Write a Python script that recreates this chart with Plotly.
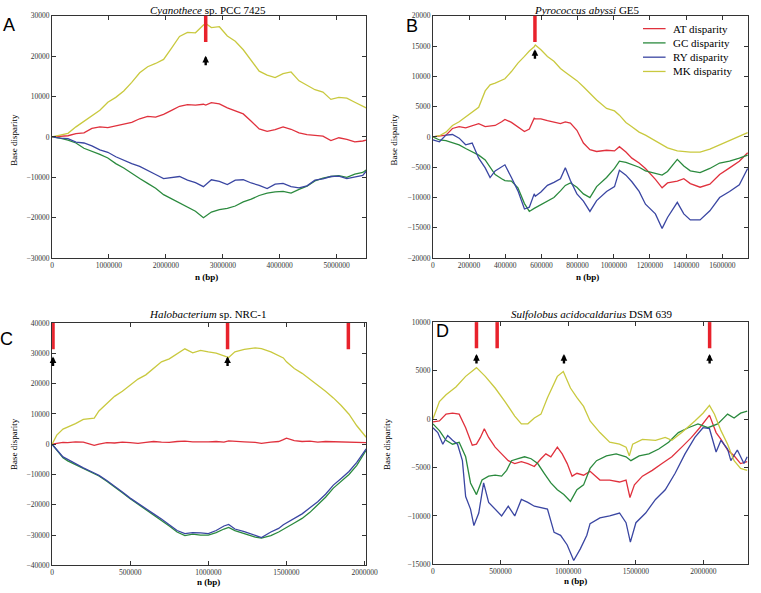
import plotly.graph_objects as go

SERIES = ["AT disparity", "GC disparity", "RY disparity", "MK disparity"]
COLORS = ["#e0313d", "#2b8a3e", "#3a46a2", "#c9c93f"]

# ---------------- Panel A: Cyanothece sp. PCC 7425 ----------------
A_n = [0, 140000, 280000, 420000, 560000, 700000, 840000, 980000, 1120000, 1260000,
       1400000, 1540000, 1680000, 1820000, 1960000, 2100000, 2240000, 2380000, 2520000, 2660000,
       2700000, 2800000, 2940000, 3080000, 3220000, 3360000, 3500000, 3640000, 3780000, 3920000,
       4060000, 4200000, 4340000, 4480000, 4620000, 4760000, 4900000, 5040000, 5180000, 5320000,
       5460000, 5520000]
A_AT = [0, 100, 300, 800, 1000, 2100, 2500, 2300, 2700, 3200,
        3600, 4500, 5100, 4900, 5600, 6600, 7600, 8000, 7900, 8100,
        7900, 8500, 8200, 7200, 6400, 5700, 3900, 2000, 1400, 1800,
        2500, 1900, 1000, 600, 400, 200, -900, -200, -600, -1200,
        -1000, -800]
A_GC = [0, -300, -800, -1500, -2800, -3500, -4300, -5200, -6600, -7700,
        -9100, -10300, -11500, -12700, -14300, -15300, -16400, -17300, -18400, -20000,
        -19600, -18600, -18000, -17700, -17100, -16100, -15400, -14500, -13900, -13600,
        -13500, -13900, -13000, -12200, -10900, -10200, -9800, -9600, -10000, -9200,
        -8800, -8200]
A_RY = [0, -300, -400, -1300, -1500, -2200, -3200, -3800, -4900, -5800,
        -6600, -7300, -8400, -9300, -10300, -10000, -9800, -10700, -11300, -12300,
        -11800, -10600, -11000, -11800, -10700, -10600, -11400, -12000, -12800, -11700,
        -11500, -12300, -12600, -12100, -10700, -10400, -9800, -9700, -10300, -9900,
        -9500, -8500]
A_MK = [0, 500, 900, 2500, 3900, 5400, 6600, 8600, 9800, 11400,
        13500, 15900, 17400, 18200, 19200, 22000, 24900, 25900, 25800, 27700,
        28100, 27100, 27300, 25000, 23700, 21600, 18800, 16300, 15300, 14700,
        15700, 16100, 13900, 12800, 11700, 11100, 9300, 9800, 9600, 8600,
        7600, 7200]
A_bars = [2700000]
A_arrows = [2700000]

# ---------------- Panel B: Pyrococcus abyssi GE5 ----------------
B_n = [0, 36000, 72000, 108000, 145000, 181000, 217000, 253000, 289000, 316000,
       344000, 380000, 398000, 434000, 470000, 506000, 533000, 560000, 566000, 597000,
       633000, 669000, 705000, 732000, 760000, 796000, 832000, 868000, 905000, 960000,
       1004000, 1031000, 1067000, 1100000, 1140000, 1175000, 1230000, 1267000, 1297000, 1351000,
       1387000, 1423000, 1477000, 1531000, 1585000, 1640000, 1694000, 1740000]
B_AT = [0, 200, 300, 1400, 1700, 1500, 1900, 2200, 1700, 1800,
        1900, 2500, 2900, 2400, 1600, 900, 1300, 3100, 3000, 3000,
        2700, 2500, 2200, 2500, 2300, 1100, -1000, -2100, -2400, -2200,
        -2300, -1600, -2500, -3500, -4300, -5200, -7000, -8400, -7600, -7300,
        -6900, -7700, -8300, -7800, -6200, -5100, -4000, -2600]
B_GC = [0, -500, -600, -1000, -1300, -1900, -2400, -3000, -3800, -5000,
        -6200, -6900, -7200, -7300, -8400, -11000, -12300, -11800, -11700, -11100,
        -10600, -10000, -8900, -8000, -7600, -8300, -9400, -10000, -8200, -6700,
        -5200, -4000, -4200, -4600, -5000, -5600, -6000, -6300, -5700, -3700,
        -4800, -5600, -5900, -5200, -4300, -4000, -3500, -3000]
B_RY = [-500, -800, 300, 400, -200, -1300, -1000, -3500, -5100, -6700,
        -5600, -5000, -4600, -6700, -8900, -11900, -11600, -9400, -9800, -9100,
        -8000, -7500, -6900, -5100, -7200, -9400, -10600, -12300, -10500, -9000,
        -8200, -5500, -6300, -7400, -9000, -11100, -12700, -15100, -13300, -10800,
        -12700, -13700, -13700, -12200, -10000, -9000, -7900, -5200]
B_MK = [0, 200, 800, 1900, 2500, 3300, 4000, 4900, 7600, 8600,
        8900, 9300, 9600, 10800, 12200, 13300, 14200, 14900, 15200, 14400,
        13300, 12500, 11300, 10700, 10100, 9300, 8300, 7200, 6100, 4700,
        4300, 3600, 2400, 1700, 800, 300, -600, -1300, -1800, -2300,
        -2400, -2500, -2500, -2000, -1300, -600, 200, 700]
B_bars = [564000]
B_arrows = [564000]

# ---------------- Panel C: Halobacterium sp. NRC-1 ----------------
C_n = [0, 30000, 70000, 100000, 150000, 200000, 270000, 300000, 350000, 400000,
       450000, 500000, 550000, 600000, 650000, 700000, 750000, 800000, 850000, 900000,
       950000, 1000000, 1050000, 1100000, 1130000, 1170000, 1230000, 1300000, 1340000, 1400000,
       1450000, 1480000, 1500000, 1550000, 1600000, 1650000, 1700000, 1750000, 1800000, 1850000,
       1900000, 1950000, 2010000]
C_AT = [0, 300, 600, 500, 800, 700, -400, 0, 500, 400,
        700, 500, 300, 600, 900, 700, 600, 900, 1000, 800,
        700, 800, 900, 700, 1100, 900, 800, 600, 300, 700,
        900, 1500, 2000, 1200, 900, 1000, 700, 900, 800, 900,
        700, 600, 500]
C_GC = [0, -2000, -4500, -5500, -6700, -8000, -9600, -10500, -12200, -14000,
        -16000, -18000, -19800, -21500, -23300, -25000, -27000, -29000, -30200, -29700,
        -30000, -30000, -29200, -28000, -27500, -28500, -29500, -30700, -31000, -30200,
        -29000, -28000, -27500, -26000, -24500, -22500, -20000, -17500, -14500, -12300,
        -10000, -7000, -2000]
C_RY = [0, -1800, -4200, -5000, -6500, -7800, -9500, -10300, -12000, -13800,
        -15800, -17800, -19600, -21300, -23000, -24700, -26600, -28500, -29500, -29200,
        -29300, -29500, -28500, -27000, -26500, -28000, -28900, -30200, -30800, -29000,
        -27800, -26600, -26000, -24500, -23000, -21000, -19000, -16500, -13500, -11300,
        -9000, -6000, -1500]
C_MK = [0, 3000, 5000, 5600, 6800, 8200, 8600, 11000, 13500, 15800,
        17500, 19600, 21500, 22900, 25000, 27200, 28200, 29900, 31500, 30200,
        31000, 30500, 30100, 29200, 28600, 30500, 31300, 31800, 31600, 30500,
        29200, 28500, 27200, 25000, 23400, 21500, 19600, 17500, 15300, 12800,
        9900, 6100, 2300]
C_bars = [6000, 1123000, 1896000]
C_arrows = [6000, 1123000]

# ---------------- Panel D: Sulfolobus acidocaldarius DSM 639 ----------------
D_AT_n = [0, 48000, 97000, 145000, 194000, 242000, 291000, 322000, 351000, 380000,
          412000, 460000, 508000, 557000, 605000, 654000, 702000, 750000, 799000, 835000,
          872000, 920000, 956000, 993000, 1029000, 1065000, 1114000, 1162000, 1235000, 1307000,
          1380000, 1428000, 1457000, 1490000, 1549000, 1622000, 1694000, 1767000, 1840000, 1912000,
          1973000, 2045000, 2094000, 2130000, 2179000, 2227000, 2275000, 2324000]
D_AT = [-300, -200, 500, 600, 500, -900, -2700, -2600, -1900, -1000,
        -1900, -2900, -3600, -4300, -4600, -4400, -4600, -4900, -4100, -3600,
        -3900, -2900, -3600, -4600, -5900, -5600, -5800, -5400, -6300, -6300,
        -6500, -6300, -8100, -6800, -5900, -5300, -4600, -3900, -2900, -1900,
        -900, 400, -1400, -2100, -3200, -3800, -4600, -4400]
D_GC_n = [0, 48000, 97000, 145000, 194000, 242000, 278000, 322000, 363000, 412000,
          460000, 508000, 545000, 581000, 630000, 678000, 726000, 775000, 823000, 872000,
          920000, 968000, 1017000, 1065000, 1114000, 1162000, 1210000, 1283000, 1355000, 1428000,
          1464000, 1525000, 1597000, 1670000, 1743000, 1815000, 1888000, 1960000, 2033000, 2106000,
          2179000, 2227000, 2275000, 2324000]
D_GC = [-500, -1200, -2200, -2600, -2400, -3900, -6600, -7800, -6300, -5900,
        -5800, -5900, -5300, -4300, -4100, -3900, -4100, -4600, -5600, -6600,
        -7300, -7800, -8500, -7300, -6800, -5100, -4300, -3800, -3600, -3900,
        -4300, -3800, -3600, -3100, -2400, -1400, -900, -500, -900, -500,
        500, 100, 600, 800]
D_RY_n = [0, 36000, 73000, 109000, 145000, 182000, 218000, 242000, 278000, 303000,
          339000, 375000, 412000, 460000, 508000, 557000, 605000, 654000, 702000, 750000,
          811000, 847000, 896000, 944000, 993000, 1041000, 1090000, 1138000, 1162000, 1235000,
          1307000, 1380000, 1428000, 1460000, 1501000, 1573000, 1646000, 1718000, 1791000, 1864000,
          1937000, 1997000, 2045000, 2094000, 2130000, 2179000, 2203000, 2251000, 2300000, 2324000]
D_RY = [-900, -1400, -2600, -1700, -2200, -2600, -4300, -8000, -9300, -11000,
        -9700, -6600, -8600, -9300, -10000, -9000, -10000, -8300, -8600, -9000,
        -9200, -9300, -11700, -12000, -13000, -14600, -13400, -12000, -10800, -10200,
        -10000, -9700, -10700, -12700, -10700, -9700, -8300, -7300, -5600, -3600,
        -1900, -900, -1000, -3400, -2200, -3100, -4300, -3200, -4600, -3900]
D_MK_n = [0, 48000, 97000, 170000, 242000, 322000, 387000, 460000, 533000, 605000,
          654000, 702000, 750000, 799000, 847000, 920000, 964000, 1017000, 1065000, 1114000,
          1162000, 1235000, 1307000, 1380000, 1428000, 1452000, 1477000, 1549000, 1646000, 1718000,
          1767000, 1840000, 1937000, 1997000, 2045000, 2082000, 2130000, 2179000, 2227000, 2275000,
          2324000]
D_MK = [0, 1800, 2500, 3300, 4400, 5300, 4400, 3200, 1800, 300,
        -500, -500, 100, 500, 2200, 4400, 4900, 3200, 2200, 1300,
        -200, -1400, -2400, -2600, -2900, -3800, -2600, -2100, -2200, -1900,
        -2200, -1400, -200, 600, 1400, 500, -1200, -2600, -4300, -5100,
        -5300]
D_bars = [322000, 475000, 2046000]
D_arrows = [322000, 969000, 2046000]

# ---------------- Figure assembly ----------------
W, H = 761, 593


def PX(px):
    return px / W


def PY(py):
    return 1 - py / H


panels = [
    dict(id="", title="<i>Cyanothece</i> sp. PCC 7425",
         series=[(A_n, A_AT), (A_n, A_GC), (A_n, A_RY), (A_n, A_MK)],
         xrange=[0, 5520000], xdtick=1000000, yrange=[-30000, 30000], ydtick=10000,
         bars=A_bars, arrows=A_arrows, xdom=[51, 371], ydom=[258, 12],
         letter="A", letter_xy=(7, 21), title_xy=(210, 6), ylab_xy=(12, 138), xlab_xy=(208, 277),
         arrow_head=0.835),
    dict(id="2", title="<i>Pyrococcus abyssi</i> GE5",
         series=[(B_n, B_AT), (B_n, B_GC), (B_n, B_RY), (B_n, B_MK)],
         xrange=[0, 1742000], xdtick=200000, yrange=[-20000, 20000], ydtick=5000,
         bars=B_bars, arrows=B_arrows, xdom=[439, 760], ydom=[258, 12],
         letter="B", letter_xy=(418, 22), title_xy=(596, 6), ylab_xy=(399, 138), xlab_xy=(596, 277),
         arrow_head=0.862),
    dict(id="3", title="<i>Halobacterium</i> sp. NRC-1",
         series=[(C_n, C_AT), (C_n, C_GC), (C_n, C_RY), (C_n, C_MK)],
         xrange=[0, 2010000], xdtick=500000, yrange=[-40000, 40000], ydtick=10000,
         bars=C_bars, arrows=C_arrows, xdom=[51, 371], ydom=[570, 324],
         letter="C", letter_xy=(5, 340), title_xy=(209, 315), ylab_xy=(12, 447), xlab_xy=(210, 587),
         arrow_head=0.862),
    dict(id="4", title="<i>Sulfolobus acidocaldarius</i> DSM 639",
         series=[(D_AT_n, D_AT), (D_GC_n, D_GC), (D_RY_n, D_RY), (D_MK_n, D_MK)],
         xrange=[0, 2330000], xdtick=500000, yrange=[-15000, 10000], ydtick=5000,
         bars=D_bars, arrows=D_arrows, xdom=[439, 760], ydom=[569, 323],
         letter="D", letter_xy=(449, 332), title_xy=(601, 315), ylab_xy=(392, 447), xlab_xy=(584, 586),
         arrow_head=0.868),
]

fig = go.Figure()
shapes, annotations = [], []
serif = "Liberation Serif, Times New Roman, serif"
axcol = "#333333"

for p in panels:
    xa, ya = "x" + p["id"], "y" + p["id"]
    for i, (n, v) in enumerate(p["series"]):
        fig.add_trace(go.Scatter(
            x=n, y=v, mode="lines", name=SERIES[i],
            line=dict(color=COLORS[i], width=1.3),
            xaxis=xa, yaxis=ya, showlegend=False))
    common = dict(ticks="inside", ticklen=4, tickcolor=axcol, mirror="allticks",
                  showline=True, linecolor=axcol, linewidth=1, showgrid=False,
                  zeroline=False, tickformat="d", tick0=0,
                  tickfont=dict(family=serif, size=7.5, color="#333333"))
    fig.layout["xaxis" + p["id"]] = dict(domain=[PX(p["xdom"][0]), PX(p["xdom"][1])],
                                         range=p["xrange"], dtick=p["xdtick"], anchor=ya, **common)
    fig.layout["yaxis" + p["id"]] = dict(domain=[PY(p["ydom"][0]), PY(p["ydom"][1])],
                                         range=p["yrange"], dtick=p["ydtick"], anchor=xa, **common)
    for b in p["bars"]:
        shapes.append(dict(type="line", xref=xa, yref=ya + " domain", x0=b, x1=b, y0=0.892, y1=1.0,
                           line=dict(color="#e8222c", width=3.5)))
    for a in p["arrows"]:
        annotations.append(dict(xref=xa, yref=ya + " domain", x=a, y=p["arrow_head"], text="",
                                showarrow=True, ax=0, ay=11, arrowhead=2, arrowsize=0.55,
                                arrowwidth=2.4, arrowcolor="black", standoff=0))
    lx, ly = p["letter_xy"]
    annotations.append(dict(xref="paper", yref="paper", x=PX(lx), y=PY(ly), text=p["letter"],
                            showarrow=False, xanchor="center", yanchor="middle",
                            font=dict(family="Liberation Sans, Arial, sans-serif", size=18, color="black")))
    tx, ty = p["title_xy"]
    annotations.append(dict(xref="paper", yref="paper", x=PX(tx), y=PY(ty), text=p["title"],
                            showarrow=False, xanchor="center", yanchor="middle",
                            font=dict(family=serif, size=11, color="black")))
    yx, yy = p["ylab_xy"]
    annotations.append(dict(xref="paper", yref="paper", x=PX(yx), y=PY(yy), text="Base disparity",
                            showarrow=False, xanchor="center", yanchor="middle", textangle=-90,
                            font=dict(family=serif, size=9, color="black")))
    nx, ny = p["xlab_xy"]
    annotations.append(dict(xref="paper", yref="paper", x=PX(nx), y=PY(ny), text="<b>n (bp)</b>",
                            showarrow=False, xanchor="center", yanchor="middle",
                            font=dict(family=serif, size=9, color="black")))

# legend drawn inside panel B
legend_rows = [25, 39.5, 54, 68.5]
for i, name in enumerate(SERIES):
    shapes.append(dict(type="line", xref="paper", yref="paper",
                       x0=PX(653), x1=PX(676), y0=PY(legend_rows[i]), y1=PY(legend_rows[i]),
                       line=dict(color=COLORS[i], width=1.3)))
    annotations.append(dict(xref="paper", yref="paper", x=PX(682), y=PY(legend_rows[i]), text=name,
                            showarrow=False, xanchor="left", yanchor="middle",
                            font=dict(family=serif, size=11, color="black")))

fig.update_layout(
    width=W, height=H, margin=dict(l=0, r=0, t=0, b=0),
    paper_bgcolor="white", plot_bgcolor="white",
    shapes=shapes, annotations=annotations, showlegend=False,
)

fig.write_html("out.html", config={"displayModeBar": False},
               post_script="document.body.style.margin='0px';document.body.style.overflow='hidden';")
